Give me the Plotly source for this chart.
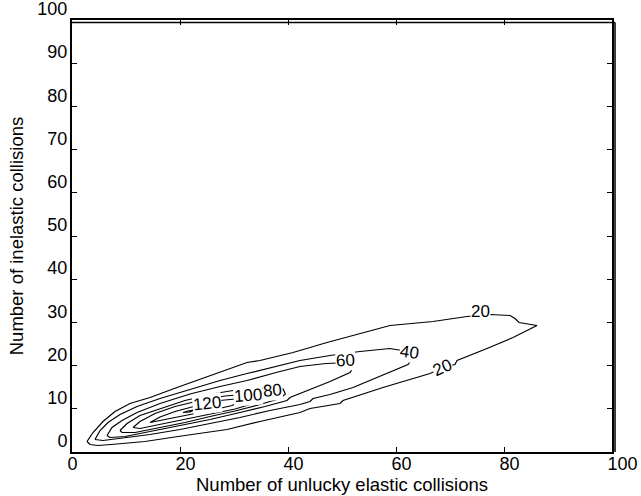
import plotly.graph_objects as go

# ---- data (contour paths, one closed loop per level) ----
levels = [20, 40, 60, 80, 100, 120, 140]

c20_x = [2.78, 3.89, 5.74, 7.96, 10.74, 14.44, 19.44, 25.56, 32.41, 34.81, 40.93, 47.22, 53.33, 58.89,
         66.85, 73.15, 77.41, 81.11, 82.04, 82.78, 86.11, 81.67, 76.85, 71.30, 70.93, 68.70, 66.30,
         57.59, 50.19, 49.63, 44.07, 42.22, 34.81, 28.70, 19.63, 13.52, 7.22, 4.81, 3.33, 2.78]
c20_y = [2.43, 4.51, 7.06, 9.38, 11.23, 12.62, 14.93, 17.71, 20.72, 21.18, 23.03, 25.35, 27.43, 29.28,
         30.21, 31.37, 31.83, 31.60, 30.90, 29.98, 29.28, 26.50, 23.96, 21.18, 20.25, 19.56, 18.17,
         14.93, 11.92, 11.23, 10.07, 9.14, 7.06, 5.21, 3.59, 2.43, 1.74, 1.50, 1.74, 2.43]

c40_x = [4.26, 5.19, 6.67, 8.89, 12.04, 16.30, 21.85, 27.41, 32.41, 37.59, 42.22, 47.78, 53.33, 58.89,
         61.11, 62.59, 63.15, 62.22, 57.04, 52.04, 47.78, 44.63, 44.07, 42.22, 36.67, 31.11, 25.56,
         20.00, 14.44, 8.89, 5.74, 4.26]
c40_y = [2.89, 4.98, 6.83, 8.68, 10.53, 12.38, 14.47, 16.55, 18.17, 19.79, 21.18, 22.34, 23.26, 23.96,
         23.50, 22.80, 21.88, 20.25, 17.48, 14.93, 13.31, 12.38, 11.69, 11.00, 9.61, 7.99, 6.60,
         5.21, 4.05, 3.13, 2.66, 2.89]

c60_x = [6.48, 7.41, 9.26, 12.04, 16.30, 21.85, 27.41, 32.41, 37.78, 42.22, 47.04, 49.63, 51.48, 52.22,
         51.48, 47.78, 42.22, 40.37, 39.81, 35.74, 31.11, 25.56, 20.00, 14.44, 9.81, 7.04, 6.48]
c60_y = [3.82, 5.67, 7.29, 9.14, 11.23, 13.43, 15.16, 16.55, 18.40, 19.79, 20.49, 20.72, 20.72, 19.79,
         18.40, 16.32, 13.54, 12.62, 11.92, 10.53, 9.14, 7.52, 6.13, 4.75, 3.59, 3.36, 3.82]

c80_x = [8.89, 10.19, 12.59, 16.30, 20.93, 26.48, 32.04, 37.22, 39.10, 39.50, 38.52, 34.81, 30.19,
         25.56, 20.93, 16.30, 11.67, 9.26, 8.89]
c80_y = [4.98, 6.60, 8.45, 10.07, 11.92, 13.54, 14.70, 14.93, 14.60, 13.40, 12.38, 11.00, 9.49,
         8.22, 6.83, 5.67, 4.51, 4.51, 4.98]

c100_x = [11.30, 12.59, 15.37, 19.07, 23.70, 28.33, 32.59, 34.44, 35.19, 32.96, 30.19, 25.56, 20.93,
          16.30, 12.59, 11.30]
c100_y = [5.67, 7.06, 8.91, 10.53, 11.92, 12.96, 13.43, 13.31, 12.38, 11.00, 9.95, 8.80, 7.52,
          6.37, 5.44, 5.67]

c120_x = [14.44, 16.30, 19.07, 22.78, 25.00, 27.41, 30.19, 31.11, 29.63, 26.48, 22.78, 19.07, 16.30, 14.44]
c120_y = [6.83, 8.10, 9.38, 10.65, 11.34, 11.92, 12.27, 11.69, 10.76, 9.84, 8.91, 7.99, 7.18, 6.83]

c140_x = [20.56, 21.48, 22.59, 21.85, 20.56]
c140_y = [9.14, 9.49, 9.72, 9.26, 9.14]

paths_x = [c20_x, c40_x, c60_x, c80_x, c100_x, c120_x, c140_x]
paths_y = [c20_y, c40_y, c60_y, c80_y, c100_y, c120_y, c140_y]

# inline contour labels
label_text = ["20", "20", "40", "60", "80", "100", "120"]
label_x = [75.56, 68.70, 62.59, 50.56, 37.22, 32.59, 25.00]
label_y = [32.52, 19.56, 23.03, 21.18, 14.24, 13.08, 11.23]
label_angle = [0, -24, 8, -3, -4, -4, -6]

x_ticks = [0, 20, 40, 60, 80, 100]
y_ticks = [0, 10, 20, 30, 40, 50, 60, 70, 80, 90, 100]

x_title = "Number of unlucky elastic collisions"
y_title = "Number of inelastic collisions"

FONT = "Liberation Sans, Arial, sans-serif"

fig = go.Figure()
for lev, xs, ys in zip(levels, paths_x, paths_y):
    fig.add_trace(go.Scatter(x=xs, y=ys, mode="lines", name=str(lev),
                             line=dict(color="black", width=1.2), hoverinfo="skip",
                             showlegend=False))

for t, x, y, a in zip(label_text, label_x, label_y, label_angle):
    fig.add_annotation(x=x, y=y, xref="x", yref="y", text=t, showarrow=False,
                       textangle=a, bgcolor="white", borderpad=0,
                       font=dict(family=FONT, size=17, color="black"))

axis_common = dict(range=[0, 100], showgrid=False, zeroline=False, showline=True,
                   linecolor="black", linewidth=2, mirror="ticks", ticks="inside",
                   ticklen=5, tickwidth=1, tickcolor="black", automargin=False,
                   ticklabeloverflow="allow",
                   tickfont=dict(family=FONT, size=18, color="black"))

fig.update_xaxes(**axis_common, tickvals=x_ticks, ticktext=[str(v) for v in x_ticks],
                 ticklabelposition="outside right", ticklabelshift=-6, ticklabelstandoff=-6,
                 title=dict(text=x_title, font=dict(family=FONT, size=18.5, color="black"), standoff=1))
fig.update_yaxes(**axis_common, tickvals=y_ticks, ticktext=[str(v) for v in y_ticks],
                 ticklabelposition="outside top", ticklabelshift=2, ticklabelstandoff=-1,
                 title=dict(text=y_title, font=dict(family=FONT, size=18.5, color="black"), standoff=9))

# doubled frame lines at top and right, as in the reference
fig.add_shape(type="line", xref="paper", yref="paper", x0=0, x1=1.0056, y0=1 - 0.006, y1=1 - 0.006,
              line=dict(color="black", width=1.5))
fig.add_shape(type="line", xref="paper", yref="paper", x0=1.0056, x1=1.0056, y0=0, y1=1 - 0.006,
              line=dict(color="black", width=1.5))

fig.update_layout(width=641, height=496, margin=dict(l=72, r=29, t=20, b=44, autoexpand=False),
                  paper_bgcolor="white", plot_bgcolor="white")

fig.write_html("out.html", config={"displayModeBar": False},
               post_script="document.body.style.margin='0';")
